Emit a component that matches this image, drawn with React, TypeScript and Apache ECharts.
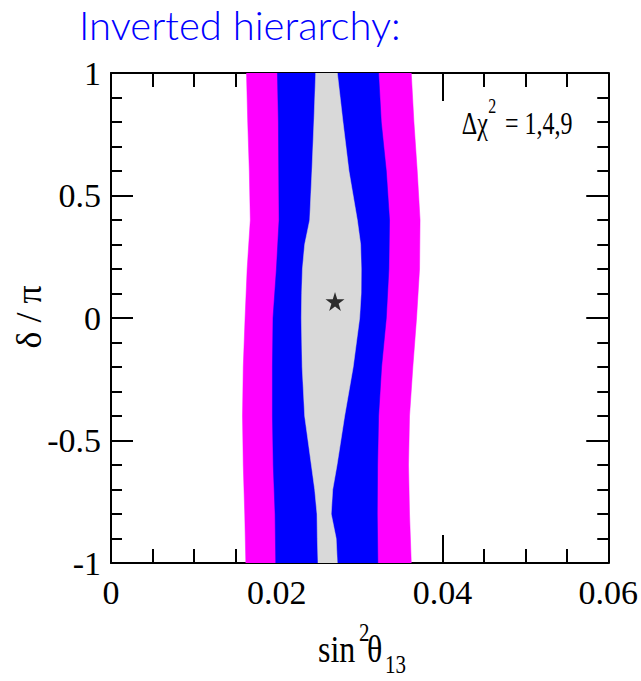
import React, { useEffect, useRef } from 'react';
import * as echarts from 'echarts';

// Tick labels
const xTickLabels = ['0', '0.02', '0.04', '0.06'];
const yTickLabels = ['-1', '-0.5', '0', '0.5', '1'];

// Outer contours (Δχ² = 9 magenta, Δχ² = 4 blue), as function of δ/π
const deltaOuter = [1, 0.8, 0.6, 0.4, 0.2, 0, -0.2, -0.4, -0.6, -0.8, -1];
const magentaLeft = [0.01635, 0.0165, 0.01669, 0.01681, 0.01643, 0.01618, 0.01596, 0.01587, 0.01596, 0.01614, 0.01627];
const magentaRight = [0.03623, 0.03655, 0.03695, 0.03729, 0.03723, 0.03687, 0.03642, 0.03602, 0.0359, 0.03602, 0.03623];
const blueLeft = [0.02008, 0.0202, 0.02024, 0.02028, 0.01996, 0.01955, 0.01948, 0.01948, 0.01958, 0.0198, 0.01988];
const blueRight = [0.03229, 0.03261, 0.03322, 0.03361, 0.03353, 0.03322, 0.03265, 0.03229, 0.03217, 0.03213, 0.0322];

// Inner contour (Δχ² = 1, gray)
const deltaInner = [1, 0.8, 0.6, 0.4, 0.3, 0.2, 0.1, 0, -0.2, -0.4, -0.6, -0.7, -0.8, -0.9, -1];
const grayLeft = [0.0247, 0.02449, 0.02425, 0.02398, 0.02337, 0.0231, 0.02301, 0.02297, 0.02307, 0.02337, 0.02418, 0.02458, 0.02486, 0.0249, 0.02498];
const grayRight = [0.02731, 0.02799, 0.02871, 0.02972, 0.03012, 0.0302, 0.03018, 0.03, 0.02922, 0.02819, 0.02727, 0.02675, 0.02657, 0.02717, 0.02731];

// Best fit point
const bestFit = [[0.02703, 0.067]];

const SERIF = '"Liberation Serif", "Times New Roman", serif';

function bandPoints(deltas: number[], left: number[], right: number[]) {
  const pts: number[][] = [];
  for (let i = 0; i < deltas.length; i++) pts.push([left[i], deltas[i]]);
  for (let i = deltas.length - 1; i >= 0; i--) pts.push([right[i], deltas[i]]);
  return pts;
}

function bandSeries(pts: number[][], color: string) {
  return {
    type: 'custom',
    coordinateSystem: 'cartesian2d',
    xAxisIndex: 0,
    yAxisIndex: 0,
    clip: true,
    silent: true,
    data: [[0, 0]],
    renderItem: (_params: any, api: any) => ({
      type: 'polygon',
      shape: { points: pts.map((p) => api.coord(p)) },
      style: { fill: color, stroke: color, lineWidth: 0.5 },
    }),
  };
}

const STAR = 'path://M50,0 L61.2,34.5 L97.6,34.5 L68.2,55.9 L79.4,90.5 L50,69.1 L20.6,90.5 L31.8,55.9 L2.4,34.5 L38.8,34.5 Z';

export default function App() {
  const ref = useRef<HTMLDivElement>(null);

  useEffect(() => {
    if (!ref.current) return;
    const chart = echarts.init(ref.current, undefined, { renderer: 'svg' });

    const axisCommon = {
      axisLine: { show: true, onZero: false, lineStyle: { color: '#000', width: 2 } },
      splitLine: { show: false },
    };

    const option: any = {
      animation: false,
      backgroundColor: '#fff',
      grid: { left: 111, top: 73, width: 498, height: 490, containLabel: false },
      xAxis: [
        {
          type: 'value', min: 0, max: 0.06, interval: 0.02, position: 'bottom',
          ...axisCommon,
          axisTick: { show: true, inside: true, length: 28, lineStyle: { color: '#000', width: 2 } },
          minorTick: { show: true, splitNumber: 4, length: 14, lineStyle: { color: '#000', width: 2 } },
          axisLabel: {
            show: true, margin: 12, color: '#000', fontFamily: SERIF, fontSize: 34,
            formatter: (v: number) => xTickLabels[Math.round(v / 0.02)] ?? '',
          },
        },
        {
          type: 'value', min: 0, max: 0.06, interval: 0.02, position: 'top',
          ...axisCommon,
          axisTick: { show: true, inside: true, length: 28, lineStyle: { color: '#000', width: 2 } },
          minorTick: { show: true, splitNumber: 4, length: 14, lineStyle: { color: '#000', width: 2 } },
          axisLabel: { show: false },
        },
      ],
      yAxis: [
        {
          type: 'value', min: -1, max: 1, interval: 0.5, position: 'left',
          ...axisCommon,
          axisTick: { show: true, inside: true, length: 22, lineStyle: { color: '#000', width: 2 } },
          minorTick: { show: true, splitNumber: 5, length: 11, lineStyle: { color: '#000', width: 2 } },
          axisLabel: {
            show: true, margin: 10, color: '#000', fontFamily: SERIF, fontSize: 34,
            formatter: (v: number) => yTickLabels[Math.round((v + 1) / 0.5)] ?? '',
          },
        },
        {
          type: 'value', min: -1, max: 1, interval: 0.5, position: 'right',
          ...axisCommon,
          axisTick: { show: true, inside: true, length: 22, lineStyle: { color: '#000', width: 2 } },
          minorTick: { show: true, splitNumber: 5, length: 11, lineStyle: { color: '#000', width: 2 } },
          axisLabel: { show: false },
        },
      ],
      series: [
        bandSeries(bandPoints(deltaOuter, magentaLeft, magentaRight), '#ff00ff'),
        bandSeries(bandPoints(deltaOuter, blueLeft, blueRight), '#0000ff'),
        bandSeries(bandPoints(deltaInner, grayLeft, grayRight), '#d9d9d9'),
        {
          type: 'scatter',
          xAxisIndex: 0,
          yAxisIndex: 0,
          symbol: STAR,
          symbolSize: [19, 19],
          itemStyle: { color: '#000' },
          data: bestFit,
          z: 5,
        },
      ],
      graphic: [
        {
          type: 'text', x: 79, y: 24.5,
          style: {
            text: 'Inverted hierarchy:', fill: '#0000ff',
            fontFamily: 'Lato, "DejaVu Sans", sans-serif', fontSize: 40, fontWeight: 300,
            align: 'left', verticalAlign: 'middle',
          },
        },
        {
          type: 'group', x: 461.7, y: 134, scaleY: 1.3,
          children: [
            {
              type: 'text', x: 0, y: -0.3375 * 24,
              style: { text: 'Δχ', fill: '#000', fontFamily: SERIF, fontSize: 24, align: 'left', verticalAlign: 'middle' },
            },
            {
              type: 'text', x: 26.5, y: -16.2 - 0.3375 * 16,
              style: { text: '2', fill: '#000', fontFamily: SERIF, fontSize: 16, align: 'left', verticalAlign: 'middle' },
            },
            {
              type: 'text', x: 43.3, y: -0.3375 * 24,
              style: { text: '= 1,4,9', fill: '#000', fontFamily: SERIF, fontSize: 24, align: 'left', verticalAlign: 'middle' },
            },
          ],
        },
        {
          type: 'group', x: 318, y: 662, scaleY: 1.2,
          children: [
            {
              type: 'text', x: 0, y: -0.3375 * 32,
              style: { text: 'sin', fill: '#000', fontFamily: SERIF, fontSize: 32, align: 'left', verticalAlign: 'middle' },
            },
            {
              type: 'text', x: 41, y: -17.5 - 0.3375 * 21,
              style: { text: '2', fill: '#000', fontFamily: SERIF, fontSize: 21, align: 'left', verticalAlign: 'middle' },
            },
            {
              type: 'text', x: 49, y: -0.3375 * 32,
              style: { text: 'θ', fill: '#000', fontFamily: SERIF, fontSize: 32, align: 'left', verticalAlign: 'middle' },
            },
            {
              type: 'text', x: 67, y: 2,
              style: { text: '13', fill: '#000', fontFamily: SERIF, fontSize: 21, align: 'left', verticalAlign: 'middle' },
            },
          ],
        },
        {
          type: 'text', x: 29, y: 317, rotation: Math.PI / 2,
          style: { text: 'δ / π', fill: '#000', fontFamily: SERIF, fontSize: 36, align: 'center', verticalAlign: 'middle' },
        },
      ],
    };

    chart.setOption(option);
    return () => chart.dispose();
  }, []);

  return (
    <div
      ref={ref}
      style={{ position: 'absolute', left: 0, top: 0, width: 641, height: 681 }}
    />
  );
}
